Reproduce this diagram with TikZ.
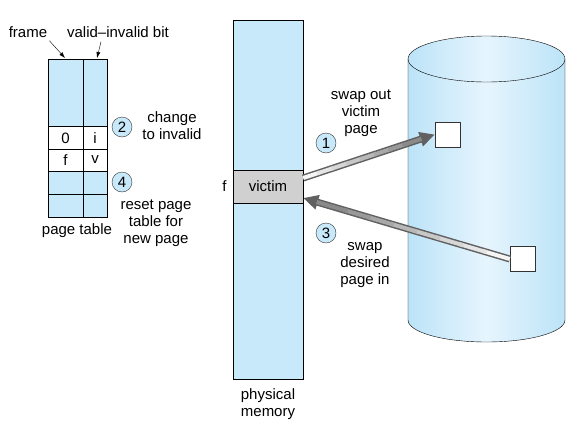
\documentclass[tikz,border=0pt]{standalone}
\usepackage{fontspec}
\setmainfont{Liberation Sans}
\usetikzlibrary{arrows.meta,positioning,calc}

\definecolor{memblue}{RGB}{200,233,250}
\definecolor{diskblue}{RGB}{188,227,248}
\definecolor{disklight}{RGB}{230,245,253}
\definecolor{victimgray}{RGB}{208,208,208}

\tikzset{
  lbl/.style={font=\fontsize{15}{16.8}\selectfont, align=center, inner sep=0pt},
  stepnum/.style={circle, draw=black!80, fill=memblue, minimum size=20pt, inner sep=0pt,
    font=\fontsize{15}{16}\selectfont},
  pgbox/.style={draw=black!80, fill=white, minimum size=25pt, inner sep=0pt},
  fatline/.style={line width=7pt, black!62, -{Triangle[length=15pt,width=14pt]}},
}
% shaded fat arrow, light at the tail, dark at the head
\newcommand{\swaparrow}[2]{%
  \draw[fatline] (#1) -- (#2);
  \coordinate (swend) at ($(#2)!14pt!(#1)$);
  \foreach \a/\b/\g in {0/.14/4,.12/.26/10,.24/.38/16,.36/.5/22,.48/.62/28,.6/.74/34,.72/.86/40,.84/1/46}
    \draw[line width=4pt, black!\g] ($(#1)!\a!(swend)$) -- ($(#1)!\b!(swend)$);
}

\begin{document}
\begin{tikzpicture}[x=1pt,y=-1pt]
    \useasboundingbox (0,0) rectangle (578,434);
    % page table
    \fill[memblue] (48,59) rectangle (107,217);
    \fill[white] (48,126) rectangle (107,171);
    \foreach \y in {126,149,171,194}
    \draw (48,\y) -- (107,\y);
    \draw (48,59) rectangle (107,217);
    \draw (83,59) -- (83,217);
    \node[lbl] (fr0) at (65.5,138) {0};
    \node[lbl] (bi) at (95,138) {i};
    \node[lbl] (frf) at (65.5,160) {f};
    \node[lbl] (bv) at (95,160) {v};
    \node[lbl] (ptab) at (77,231) {page table};
    \node[lbl] (frame) at (28,32) {frame};
    \node[lbl] (vibit) at (118,32) {valid--invalid bit};
    \coordinate (fcol) at (65,58);
    \coordinate (bcol) at (97,58);
    \draw[-{Latex[length=6pt,width=4pt]}] (frame.south east) ++(2,3) -- (fcol);
    \draw[-{Latex[length=6pt,width=4pt]}] (vibit.south) ++(-17,4) -- (bcol);
    \node[stepnum] (s2) at (122,127) {2};
    \node[stepnum] (s4) at (122,182) {4};
    \node[lbl] (chg) at (172,126) {change\\to invalid};
    \node[lbl] (reset) at (156,223) {reset page\\table for\\new page};

    % physical memory
    \fill[memblue] (233,20) rectangle (303,379);
    \draw (233,20) rectangle (303,379);
    \node[draw, fill=victimgray, minimum width=70pt, minimum height=33pt, inner sep=0pt,
      font=\fontsize{15}{16}\selectfont] (victim) at (268,186.5) {victim};
    \node[lbl, left=6pt of victim] (fmark) {f};
    \node[lbl] (phys) at (268,404) {physical\\memory};

    % backing store
    \shade[left color=diskblue, right color=diskblue, middle color=disklight]
      (408,59) -- (408,320) arc[start angle=180, end angle=0, x radius=78.5, y radius=22]
      -- (565,59) -- cycle;
    \shade[left color=diskblue, right color=diskblue, middle color=disklight]
      (486.5,59) ellipse[x radius=78.5, y radius=23];
    \draw (408,59) -- (408,320) arc[start angle=180, end angle=0, x radius=78.5, y radius=22]
      -- (565,59);
    \draw (486.5,59) ellipse[x radius=78.5, y radius=23];
    \node[pgbox] (outpg) at (447.5,134.5) {};
    \node[pgbox] (inpg) at (522.5,259) {};

    % swap arrows
    \coordinate (vout) at ([yshift=8.5pt]victim.east);
    \coordinate (vin) at ([yshift=-11.5pt]victim.east);
    \swaparrow{vout}{outpg.west}
    \swaparrow{inpg.west}{vin}
    \node[stepnum] (s1) at (326,143) {1};
    \node[stepnum] (s3) at (326,233) {3};
    \node[lbl] (swout) at (361,113) {swap out\\victim\\page};
    \node[lbl] (swin) at (365,265) {swap\\desired\\page in};
\end{tikzpicture}
\end{document}
